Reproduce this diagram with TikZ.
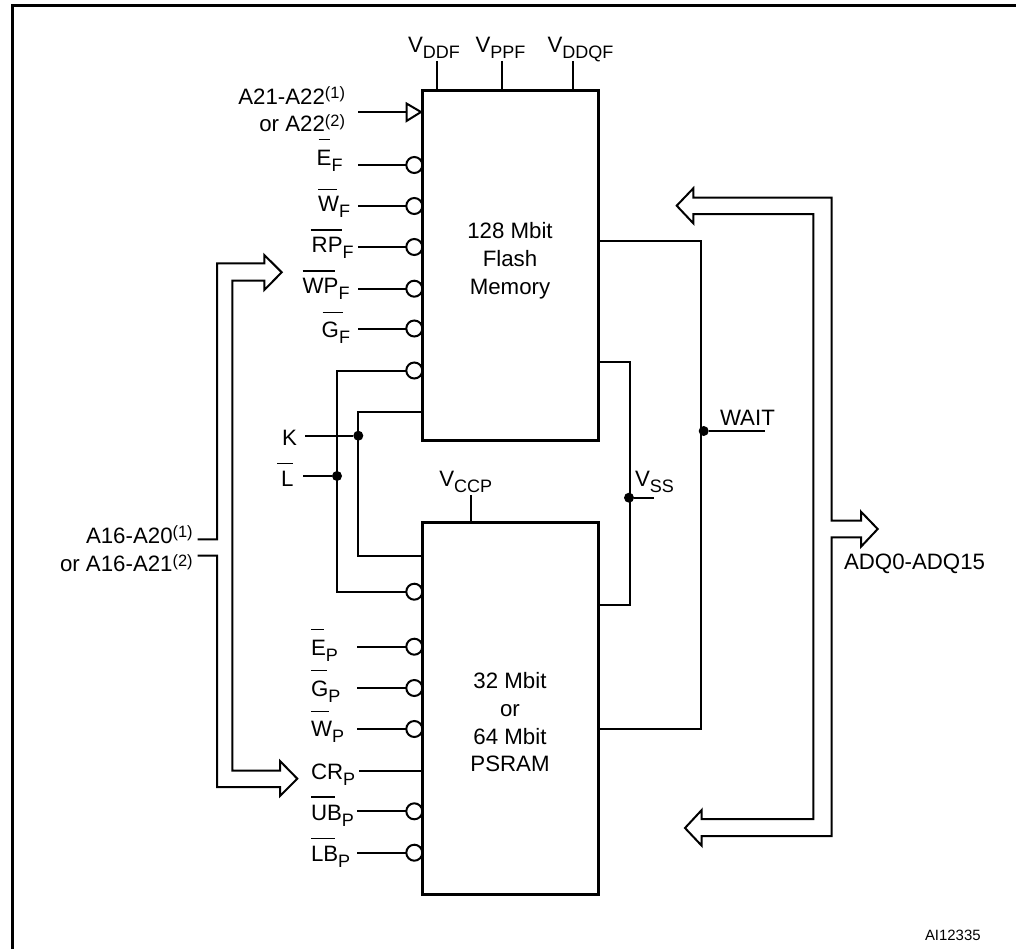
\documentclass[tikz,border=0pt]{standalone}
\usepackage{fontspec}
\setmainfont{Liberation Sans}
\newcommand\subl[2]{#1\raisebox{-4.7pt}{\fontsize{13.5}{14}\selectfont #2}}
% bar over a signal name: height above baseline, left offset, width (all in reference pixels)
\newcommand\ovb[4]{\rlap{\hspace{#2\dimexpr0.75pt\relax}\raisebox{#1\dimexpr0.75pt\relax}{\rule{#3\dimexpr0.75pt\relax}{1.1pt}}}#4}
\newcommand\supl[1]{\raisebox{4.2pt}{\fontsize{12.3}{13}\selectfont(#1)}}
\tikzset{
  x=0.75pt,y=-0.75pt,
  wire/.style={line width=1.5pt,line join=miter},
  heavy/.style={line width=2.25pt,line join=miter},
  chip/.style={draw,line width=2.25pt,fill=none,rectangle,inner sep=0pt,outer sep=0pt,anchor=north west,minimum width=132pt},
  inv/.style={draw,line width=1.5pt,fill=white,circle,inner sep=0pt,outer sep=0pt,minimum size=12pt},
  tri/.style={line width=1.5pt,line join=miter,fill=white},
  junction/.style={fill=black,circle,inner sep=0pt,outer sep=0pt,minimum size=7.5pt},
  lbl/.style={inner sep=0pt,outer sep=0pt,anchor=base west,font=\fontsize{16.7}{18}\selectfont},
  lblr/.style={lbl,anchor=base east},
  lblc/.style={lbl,anchor=base,align=center},
}
\begin{document}
\begin{tikzpicture}
\useasboundingbox (0,0) rectangle (1016,949);
% frame
\draw[heavy] (12.5,949) -- (12.5,5.3) -- (1016,5.3);

% chips
\node[chip,minimum height=262.5pt] (flash) at (422.5,90.5) {};
\node[chip,minimum height=279pt] (psram) at (422.5,522.5) {};

% supply pins
\coordinate (vddf) at (436.7,61);
\coordinate (vppf) at (501.7,61);
\coordinate (vddqf) at (573,61);
\coordinate (vccp) at (470.5,495);
\draw[wire] (vddf) -- (vddf |- flash.north);
\draw[wire] (vppf) -- (vppf |- flash.north);
\draw[wire] (vddqf) -- (vddqf |- flash.north);
\draw[wire] (vccp) -- (vccp |- psram.north);

% address input with triangle
\coordinate (aend) at (358,112);
\coordinate (atip) at (421,112);
\coordinate (abase) at (406.5,112);
\draw[wire] (aend) -- (abase);
\draw[tri,draw=black] (406.5,103.5) -- (atip) -- (406.5,121) -- cycle;

% inverted pins, flash
\foreach \n/\y in {ef/165,wf/206,rpf/247,wpf/288.7,gf/328.5,kf/370.5}{
  \node[inv] (\n) at (414.3,\y) {};
}
% inverted pins, psram
\foreach \n/\y in {kp/591.7,ep/646.7,gp/688,wp/729,ubp/811.3,lbp/852.7}{
  \node[inv] (\n) at (414.3,\y) {};
}
\foreach \n/\y in {ef/165,wf/206,rpf/247,wpf/288.7,gf/328.5}{
  \coordinate (\n-end) at (358,\y);
  \draw[wire] (\n-end) -- (\n.west);
}
\foreach \n/\y in {ep/646.7,gp/688,wp/729,ubp/811.3,lbp/852.7}{
  \coordinate (\n-end) at (357,\y);
  \draw[wire] (\n-end) -- (\n.west);
}
\coordinate (cr-end) at (359,770.7);
\draw[wire] (cr-end) -- (cr-end -| psram.west);

% K and L nets
\node[junction] (kdot) at (358.3,435.7) {};
\node[junction] (ldot) at (337,476) {};
\coordinate (kend) at (305,435.7);
\coordinate (lend) at (303,476);
\coordinate (kup) at (358.3,412.3);
\coordinate (kdn) at (358.3,555.7);
\draw[wire] (kend) -- (kdot);
\draw[wire] (lend) -- (ldot);
\draw[wire] (kf.west) -- (ldot |- kf) -- (ldot |- kp) -- (kp.west);
\draw[wire] (kup -| flash.west) -- (kup) -- (kdn) -- (kdn -| psram.west);

% chip outlines over bubbles
\draw[heavy] (flash.north west) rectangle (flash.south east);
\draw[heavy] (psram.north west) rectangle (psram.south east);

% left address bus
\coordinate (bus1) at (197.7,539.3);
\coordinate (bus2) at (197.7,555.7);
\draw[wire] (bus1) -- (217,539.3) -- (217,263.3) -- (264.3,263.3) -- (264.3,255)
  -- (281.7,272.3) -- (264.3,290) -- (264.3,280.7) -- (232.3,280.7) -- (232.3,770.7)
  -- (280,770.7) -- (280,761) -- (297.3,778.7) -- (280,796) -- (280,787)
  -- (217,787) -- (217,555.7) -- (bus2);

% right data bus
\draw[wire] (676.7,205.7) -- (693.3,188.3) -- (693.3,197.7) -- (831.7,197.7) -- (831.7,520.7)
  -- (861,520.7) -- (861,511.7) -- (877.7,529) -- (861,546.7) -- (861,537.3) -- (831.7,537.3)
  -- (831.7,836) -- (701.7,836) -- (701.7,845.7) -- (685,828) -- (701.7,810) -- (701.7,819)
  -- (813.3,819) -- (813.3,214) -- (693.3,214) -- (693.3,223.3) -- cycle;

% WAIT net
\coordinate (w1) at (701,241);
\coordinate (w2) at (701,729);
\node[junction] (wdot) at (703.7,431) {};
\coordinate (wend) at (765,431);
\draw[wire] (w1 -| flash.east) -- (w1) -- (w2) -- (w2 -| psram.east);
\draw[wire] (wdot) -- (wend);

% VSS net
\coordinate (s1) at (630.3,362.3);
\coordinate (s2) at (630.3,605);
\node[junction] (sdot) at (629,497.7) {};
\coordinate (send) at (654,497.7);
\draw[wire] (s1 -| flash.east) -- (s1) -- (s2) -- (s2 -| psram.east);
\draw[wire] (sdot) -- (send);

% chip texts
\node[lblc] (t1) at (510,238.3) {128 Mbit};
\node[lblc] (t2) at (510,266.7) {Flash};
\node[lblc] (t3) at (510,294.3) {Memory};
\node[lblc] (t4) at (510,688.3) {32 Mbit};
\node[lblc] (t5) at (510,716) {or};
\node[lblc] (t6) at (510,744) {64 Mbit};
\node[lblc] (t7) at (510,771.7) {PSRAM};

% supply labels
\node[lbl] (l1) at (408,52.7) {\subl{V}{DDF}};
\node[lbl] (l2) at (475.5,52.7) {\subl{V}{PPF}};
\node[lbl] (l3) at (547.5,52.7) {\subl{V}{DDQF}};
\node[lbl] (l4) at (439.3,486) {\subl{V}{CCP}};
\node[lbl] (l5) at (635,486) {\subl{V}{SS}};

% address labels
\node[lblr] (l6) at (345,104) {A21-A22\supl{1}};
\node[lblr] (l7) at (345,131.7) {or A22\supl{2}};
\node[lblr] (l8) at (192.7,543.3) {A16-A20\supl{1}};
\node[lblr] (l9) at (192.7,571.7) {or A16-A21\supl{2}};

% flash pin labels
\node[lbl] (l10) at (316.7,165.7) {\subl{\ovb{25.7}{2}{11.3}{E}}{F}};
\node[lbl] (l11) at (318,211.7) {\subl{\ovb{21.7}{0}{19.3}{W}}{F}};
\node[lbl] (l12) at (311.7,252.3) {\subl{\ovb{21.6}{-1}{31.6}{RP}}{F}};
\node[lbl] (l13) at (302.7,293.3) {\subl{\ovb{21.6}{0}{32}{WP}}{F}};
\node[lbl] (l14) at (321.7,337.3) {\subl{\ovb{24}{1}{20}{G}}{F}};
\node[lbl] (l15) at (282,445) {K};
\node[lbl] (l16) at (281,486) {\ovb{22}{-4}{16}{L}};

% psram pin labels
\node[lbl] (l17) at (311,655) {\subl{\ovb{25}{0}{13.3}{E}}{P}};
\node[lbl] (l18) at (311,696) {\subl{\ovb{25}{0}{16}{G}}{P}};
\node[lbl] (l19) at (311,736.7) {\subl{\ovb{24.4}{0}{17.6}{W}}{P}};
\node[lbl] (l20) at (311,779) {\subl{CR}{P}};
\node[lbl] (l21) at (311,820) {\subl{\ovb{22.3}{0}{24.3}{UB}}{P}};
\node[lbl] (l22) at (311,861) {\subl{\ovb{22}{0}{24.3}{LB}}{P}};

% right labels
\node[lbl] (l23) at (720,425.7) {WAIT};
\node[lbl] (l24) at (844,569.3) {ADQ0-ADQ15};
\node[lbl,font=\fontsize{11.2}{12}\selectfont] (l25) at (925,940) {AI12335};
\end{tikzpicture}
\end{document}
